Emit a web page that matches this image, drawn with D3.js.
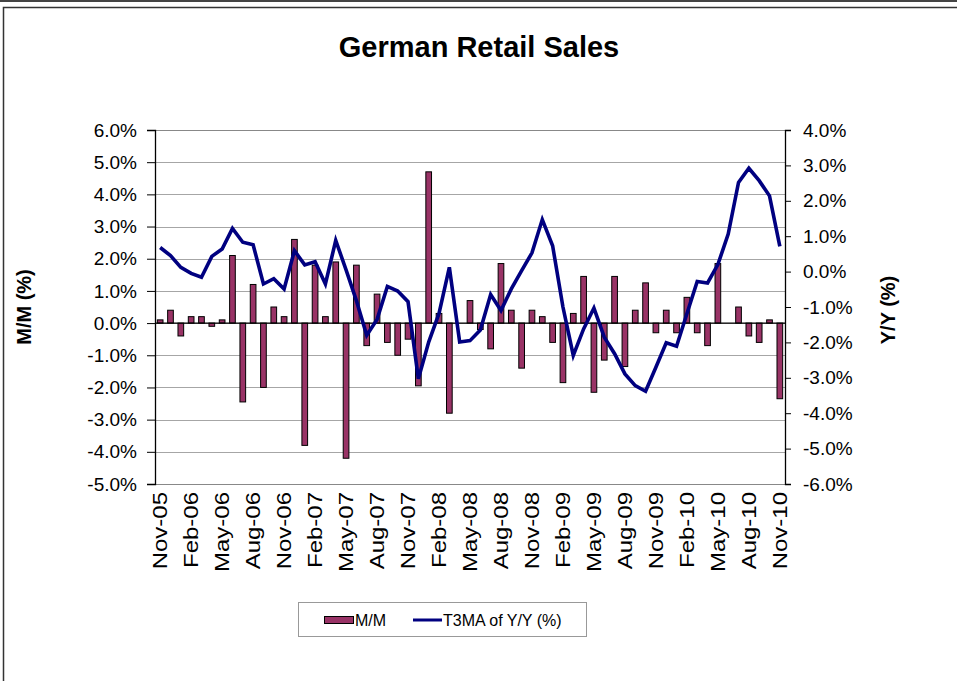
<!DOCTYPE html>
<html><head><meta charset="utf-8">
<script src="https://cdn.jsdelivr.net/npm/d3@7"></script>
<style>
html,body{margin:0;padding:0;background:#fff;}
text{font-family:Arial,"Liberation Sans",sans-serif;fill:#000;}
</style></head>
<body><svg id="c" width="957" height="681"></svg>
<script>
const categories = ["Nov-05","Dec-05","Jan-06","Feb-06","Mar-06","Apr-06","May-06","Jun-06","Jul-06","Aug-06","Sep-06","Oct-06",
"Nov-06","Dec-06","Jan-07","Feb-07","Mar-07","Apr-07","May-07","Jun-07","Jul-07","Aug-07","Sep-07","Oct-07",
"Nov-07","Dec-07","Jan-08","Feb-08","Mar-08","Apr-08","May-08","Jun-08","Jul-08","Aug-08","Sep-08","Oct-08",
"Nov-08","Dec-08","Jan-09","Feb-09","Mar-09","Apr-09","May-09","Jun-09","Jul-09","Aug-09","Sep-09","Oct-09",
"Nov-09","Dec-09","Jan-10","Feb-10","Mar-10","Apr-10","May-10","Jun-10","Jul-10","Aug-10","Sep-10","Oct-10","Nov-10"];
const mmValues = [0.1,0.4,-0.4,0.2,0.2,-0.1,0.1,2.1,-2.45,1.2,-2.0,0.5,
0.2,2.6,-3.8,1.8,0.2,1.9,-4.2,1.8,-0.7,0.9,-0.6,-1.0,
-0.5,-1.95,4.7,0.3,-2.8,0.0,0.7,-0.2,-0.8,1.85,0.4,-1.4,
0.4,0.2,-0.6,-1.85,0.3,1.45,-2.15,-1.15,1.45,-1.35,0.4,1.25,
-0.3,0.4,-0.3,0.8,-0.3,-0.7,1.85,0.0,0.5,-0.4,-0.6,0.1,-2.35];
const yyValues = [0.68,0.45,0.12,-0.05,-0.16,0.43,0.64,1.22,0.83,0.76,-0.35,-0.2,
-0.49,0.59,0.19,0.28,-0.35,0.88,0.05,-0.82,-1.8,-1.35,-0.42,-0.55,
-0.85,-3.03,-1.99,-1.18,0.12,-1.99,-1.95,-1.65,-0.65,-1.1,-0.49,0.03,
0.53,1.47,0.73,-1.0,-2.37,-1.62,-1.03,-1.85,-2.32,-2.89,-3.22,-3.38,
-2.7,-2.01,-2.11,-1.19,-0.28,-0.32,0.2,1.06,2.52,2.92,2.57,2.14,0.71];
const xTickLabels = ["Nov-05","Feb-06","May-06","Aug-06","Nov-06","Feb-07","May-07","Aug-07","Nov-07","Feb-08","May-08",
"Aug-08","Nov-08","Feb-09","May-09","Aug-09","Nov-09","Feb-10","May-10","Aug-10","Nov-10"];
const leftTicks = [-5,-4,-3,-2,-1,0,1,2,3,4,5,6];
const rightTicks = [-6,-5,-4,-3,-2,-1,0,1,2,3,4];
const seriesNames = ["M/M","T3MA of Y/Y (%)"];
const chartTitle = "German Retail Sales";
const leftTitle = "M/M (%)", rightTitle = "Y/Y (%)";

const svg = d3.select("#c");
const L = 155, R = 785, T = 130, B = 484;
const barColor = "#993366", lineColor = "#000080";

// frames
svg.append("line").attr("x1",0).attr("x2",957).attr("y1",1).attr("y2",1).attr("stroke","#444").attr("stroke-width",2);
svg.append("rect").attr("x",3.5).attr("y",7.5).attr("width",970).attr("height",700).attr("fill","none").attr("stroke","#333").attr("stroke-width",1.5);

const x = d3.scaleBand().domain(categories).range([L,R]).paddingInner(0.45).paddingOuter(0.225);
const yL = d3.scaleLinear().domain([-5,6]).range([B,T]);
const yR = d3.scaleLinear().domain([-6,4]).range([B,T]);

// gridlines
svg.append("g").selectAll("line").data(leftTicks).join("line")
  .attr("x1",L).attr("x2",R).attr("y1",d=>Math.round(yL(d))+0.5).attr("y2",d=>Math.round(yL(d))+0.5)
  .attr("stroke","#a6a6a6").attr("stroke-width",1);
svg.append("rect").attr("x",L+0.5).attr("y",T+0.5).attr("width",R-L).attr("height",B-T)
  .attr("fill","none").attr("stroke","#888").attr("stroke-width",1);

// bars
svg.append("g").selectAll("rect").data(mmValues).join("rect")
  .attr("x",(d,i)=>x(categories[i]))
  .attr("width",x.bandwidth())
  .attr("y",d=>yL(Math.max(0,d)))
  .attr("height",d=>Math.abs(yL(d)-yL(0)))
  .attr("fill",barColor).attr("stroke","#000").attr("stroke-width",1);

// zero line
svg.append("line").attr("x1",L).attr("x2",R).attr("y1",yL(0)).attr("y2",yL(0)).attr("stroke","#000").attr("stroke-width",1.3);

// line
const line = d3.line().x((d,i)=>x(categories[i])+x.bandwidth()/2).y(d=>yR(d));
svg.append("path").datum(yyValues).attr("d",line).attr("fill","none")
  .attr("stroke",lineColor).attr("stroke-width",3.6).attr("stroke-linejoin","miter");

// axes
const fmt = d=>d.toFixed(1)+"%";
const gl = svg.append("g").attr("transform",`translate(${L},0)`)
  .call(d3.axisLeft(yL).tickValues(leftTicks).tickFormat(fmt).tickSize(8).tickPadding(10));
const gr = svg.append("g").attr("transform",`translate(${R},0)`)
  .call(d3.axisRight(yR).tickValues(rightTicks).tickFormat(fmt).tickSize(6).tickPadding(12));
[gl,gr].forEach(g=>{
  g.selectAll("path.domain").attr("stroke","#000").attr("stroke-width",1.3);
  g.selectAll(".tick line").attr("stroke","#000");
  g.selectAll("text").attr("font-size",19).attr("font-family","Arial, Liberation Sans");
});

// x labels
svg.append("g").selectAll("text").data(xTickLabels).join("text")
  .attr("transform",d=>`translate(${x(d)+x.bandwidth()/2+7},492) rotate(-90) scale(1.2,1)`)
  .attr("text-anchor","end").attr("font-size",20).text(d=>d);

// titles
svg.append("text").attr("x",479).attr("y",57).attr("text-anchor","middle")
  .attr("font-size",29).attr("font-weight","bold").text(chartTitle);
svg.append("text").attr("transform","translate(31,307) rotate(-90)").attr("text-anchor","middle")
  .attr("font-size",20).attr("font-weight","bold").text(leftTitle);
svg.append("text").attr("transform","translate(895,310) rotate(-90)").attr("text-anchor","middle")
  .attr("font-size",20).attr("font-weight","bold").text(rightTitle);

// legend
const lg = svg.append("g");
lg.append("rect").attr("x",298.5).attr("y",602.5).attr("width",288).attr("height",34).attr("fill","#fff").attr("stroke","#999");
lg.append("rect").attr("x",324.5).attr("y",616.5).attr("width",29).attr("height",7).attr("fill",barColor).attr("stroke","#000");
lg.append("text").attr("x",355).attr("y",626).attr("font-size",16).text(seriesNames[0]);
lg.append("line").attr("x1",413).attr("x2",442).attr("y1",620).attr("y2",620).attr("stroke",lineColor).attr("stroke-width",3);
lg.append("text").attr("x",443).attr("y",626).attr("font-size",16).text(seriesNames[1]);
</script></body></html>
